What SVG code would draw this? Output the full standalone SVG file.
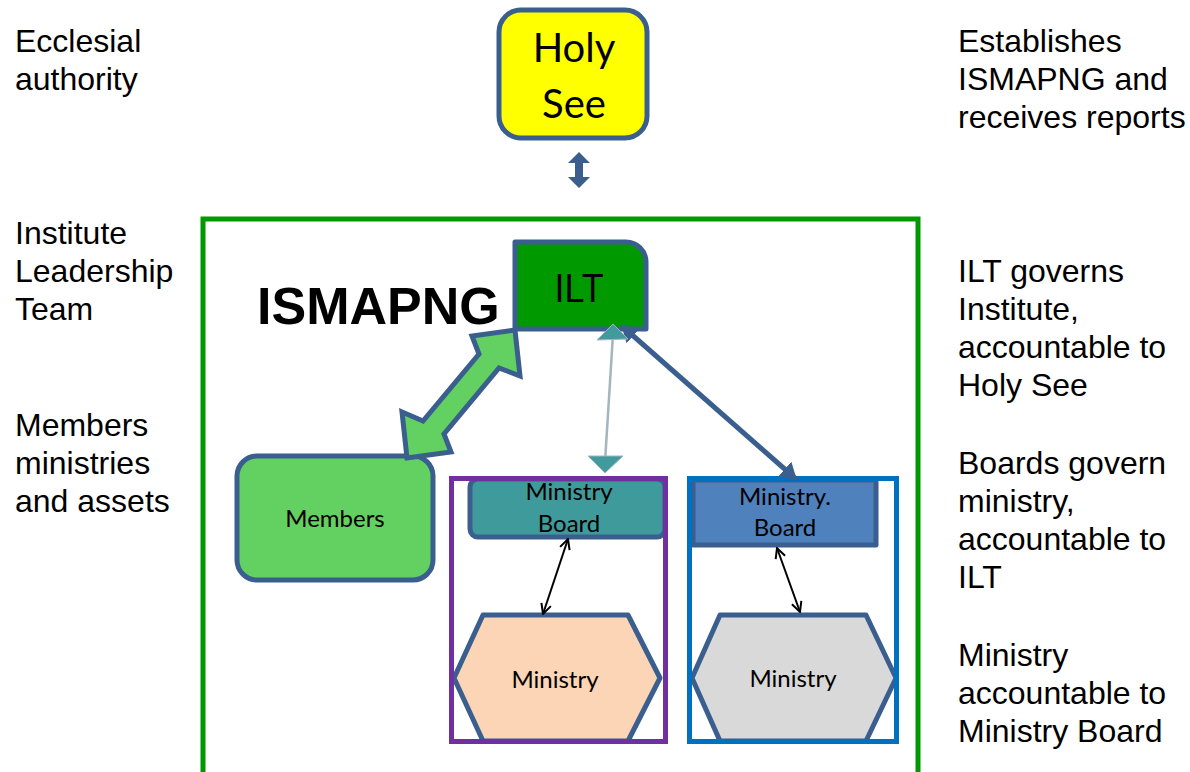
<svg xmlns="http://www.w3.org/2000/svg" width="1190" height="772" viewBox="0 0 1190 772">
<style>
.lbl{font-family:"Liberation Sans",Arial,sans-serif;font-size:32px;fill:#000}
.cal{font-family:Lato,"Open Sans",sans-serif;fill:#000;text-anchor:middle}
.nd{stroke:#3a5f8f;stroke-width:5;stroke-linejoin:round}
</style>
<defs>
<marker id="open" viewBox="0 0 12 12" refX="11" refY="6" markerWidth="12" markerHeight="12" markerUnits="userSpaceOnUse" orient="auto-start-reverse">
<path d="M1,1 L11,6 L1,11" fill="none" stroke="#000" stroke-width="2"/>
</marker>
<marker id="navy" viewBox="0 0 16 20" refX="15" refY="10" markerWidth="16" markerHeight="20" markerUnits="userSpaceOnUse" orient="auto-start-reverse">
<path d="M0,0 L16,10 L0,20 Z" fill="#3a5f8f"/>
</marker>
</defs>
<rect x="0" y="0" width="1190" height="772" fill="#fff"/>

<g id="left-labels" class="lbl">
<text x="15" y="52">Ecclesial</text>
<text x="15" y="90">authority</text>
<text x="15" y="244">Institute</text>
<text x="15" y="282">Leadership</text>
<text x="15" y="320">Team</text>
<text x="15" y="436">Members</text>
<text x="15" y="474">ministries</text>
<text x="15" y="512">and assets</text>
</g>
<g id="right-labels" class="lbl">
<text x="958" y="52">Establishes</text>
<text x="958" y="90">ISMAPNG and</text>
<text x="958" y="128">receives reports</text>
<text x="958" y="282">ILT governs</text>
<text x="958" y="320">Institute,</text>
<text x="958" y="358">accountable to</text>
<text x="958" y="396">Holy See</text>
<text x="958" y="474">Boards govern</text>
<text x="958" y="512">ministry,</text>
<text x="958" y="550">accountable to</text>
<text x="958" y="588">ILT</text>
<text x="958" y="666">Ministry</text>
<text x="958" y="704">accountable to</text>
<text x="958" y="742">Ministry Board</text>
</g>

<g id="ismapng-frame">
<rect x="203" y="219" width="715" height="600" fill="none" stroke="#009900" stroke-width="5"/>
<text x="257" y="324" font-family="Liberation Sans,Arial,sans-serif" font-weight="bold" font-size="52">ISMAPNG</text>
</g>

<g id="holy-see">
<rect x="499" y="10" width="148" height="128" rx="22" fill="#ffff00" class="nd"/>
<text class="cal" x="574" y="62" font-size="40">Holy</text>
<text class="cal" x="574" y="118" font-size="40">See</text>
</g>

<g id="ilt">
<path d="M515,242 H626 A20,20 0 0 1 646,262 V329 H515 Z" fill="#009900" class="nd"/>
<text x="579" y="302" font-family="Liberation Sans,Arial,sans-serif" font-size="41" text-anchor="middle" textLength="49" lengthAdjust="spacingAndGlyphs">ILT</text>
</g>

<g id="members">
<rect x="237" y="456" width="196" height="124" rx="20" fill="#62d162" class="nd"/>
<text class="cal" x="335" y="527" font-size="24">Members</text>
</g>

<g id="ministry-board-1">
<rect x="470" y="479" width="195" height="58" rx="8" fill="#3f9b9b" class="nd"/>
<text class="cal" x="569" y="500" font-size="24">Ministry</text>
<text class="cal" x="569" y="532" font-size="24">Board</text>
</g>

<g id="ministry-1">
<polygon points="483,615 628,615 660,678 628,741 483,741 454,678" fill="#fbd5b5" class="nd"/>
<text class="cal" x="555" y="688" font-size="24">Ministry</text>
</g>

<g id="ministry-board-2">
<rect x="693" y="480" width="183" height="65" fill="#4f81bd" class="nd"/>
<text class="cal" x="785" y="505" font-size="24">Ministry.</text>
<text class="cal" x="785" y="536" font-size="24">Board</text>
</g>

<g id="ministry-2">
<polygon points="720,615 866,615 896,678 866,741 720,741 692,678" fill="#d9d9d9" class="nd"/>
<text class="cal" x="793" y="687" font-size="24">Ministry</text>
</g>

<g id="ministry-unit-1">
<rect x="451.5" y="478.5" width="214" height="263" fill="none" stroke="#7030a0" stroke-width="5"/>
</g>
<g id="ministry-unit-2">
<rect x="689.5" y="478.5" width="207" height="263" fill="none" stroke="#0070c0" stroke-width="5"/>
</g>

<g id="connectors">
<polygon points="579,152 590,163 583,163 583,177 590,177 579,188 568,177 575,177 575,163 568,163" fill="#3a5f8f"/>
<polygon points="515,330 520,376 499,368 444,434 451,452 407,458 402,412 423,421 479,354 472,336" fill="#62d162" stroke="#3a5f8f" stroke-width="5" stroke-linejoin="miter"/>
<line x1="622" y1="326" x2="796" y2="479" stroke="#3a5f8f" stroke-width="5" marker-start="url(#navy)" marker-end="url(#navy)"/>
<line x1="613" y1="334" x2="605" y2="462" stroke="#a3b6bd" stroke-width="2.5"/>
<polygon points="613,324 628,339 597,340" fill="#419a9e" stroke="#a3b6bd" stroke-width="1"/>
<polygon points="605,473 588,456 623,456" fill="#419a9e" stroke="#a3b6bd" stroke-width="1"/>
<line x1="568" y1="539" x2="543" y2="614" stroke="#000" stroke-width="2" marker-start="url(#open)" marker-end="url(#open)"/>
<line x1="777" y1="548" x2="800" y2="612" stroke="#000" stroke-width="2" marker-start="url(#open)" marker-end="url(#open)"/>
</g>
</svg>
